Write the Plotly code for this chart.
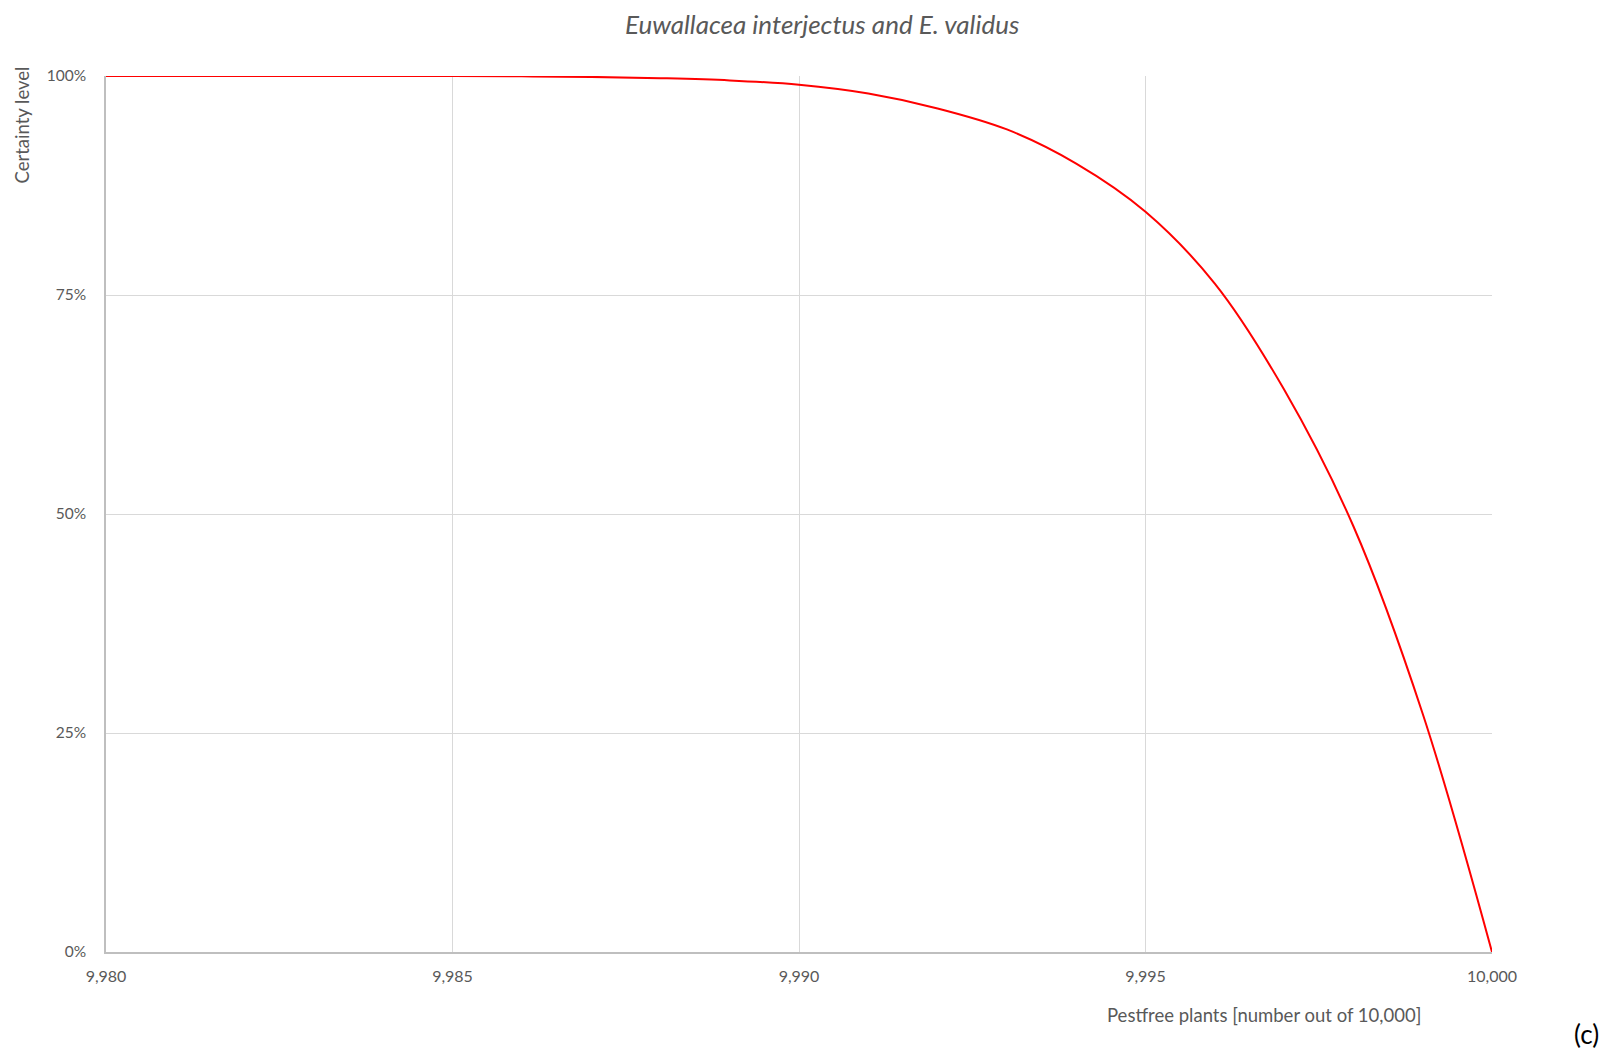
import plotly.graph_objects as go

# Data
pestfree_plants = [9980, 9981, 9982, 9983, 9984, 9985, 9986, 9987, 9988, 9989, 9990,
                   9991, 9992, 9993, 9994, 9995, 9996, 9997, 9998, 9999, 10000]
certainty = [1.000, 1.000, 1.000, 1.000, 1.000, 0.9999, 0.9996, 0.9990, 0.9975, 0.9950, 0.990,
             0.980, 0.963, 0.939, 0.900, 0.845, 0.763, 0.642, 0.486, 0.272, 0.000]

x_ticks = [9980, 9985, 9990, 9995, 10000]
y_ticks = [0, 0.25, 0.5, 0.75, 1.0]

title_text = "Euwallacea interjectus and E. validus"
x_title = "Pestfree plants [number out of 10,000]"
y_title = "Certainty level"
panel_label = "(c)"

FONT = "Lato, Carlito, 'Open Sans', sans-serif"
GRAY = "#595959"

fig = go.Figure()
fig.add_trace(go.Scatter(
    x=pestfree_plants, y=certainty, mode="lines",
    line=dict(color="#ff0000", width=2, shape="spline", smoothing=1.0),
    cliponaxis=False, showlegend=False, hoverinfo="x+y",
))

# The page body has an 8px margin; size the figure so the plot lands where the reference has it
OFF = 8
W, H = 1610 - OFF, 1051 - OFF
PL, PR, PT, PB = 106, 1492, 76, 952   # plot area edges in page pixels
L, R, T, B = PL - OFF, 1610 - PR, PT - OFF, 1051 - PB
pw, ph = PR - PL, PB - PT


def px(p):
    return (p - PL) / pw


def py(p):
    return (PB - p) / ph


fig.update_layout(
    width=W, height=H,
    margin=dict(l=L, r=R, t=T, b=B),
    paper_bgcolor="white", plot_bgcolor="white",
    font=dict(family=FONT, color=GRAY, size=16),
    showlegend=False,
    xaxis=dict(
        range=[9980, 10000], tickvals=x_ticks,
        ticktext=[f"{v:,}" for v in x_ticks],
        showgrid=True, gridcolor="#d9d9d9", gridwidth=1.3,
        showline=True, linecolor="#bfbfbf", linewidth=1.5,
        zeroline=False, ticks="", ticklabelstandoff=9,
        tickfont=dict(family=FONT, size=16, color=GRAY),
    ),
    yaxis=dict(
        range=[0, 1], tickvals=y_ticks,
        ticktext=[f"{int(v*100)}%" for v in y_ticks],
        showgrid=True, gridcolor="#d9d9d9", gridwidth=1.3,
        showline=True, linecolor="#bfbfbf", linewidth=1.5,
        zeroline=False, ticks="", ticklabelstandoff=15,
        tickfont=dict(family=FONT, size=15.5, color=GRAY),
    ),
    annotations=[
        dict(text=f"<i>{title_text}</i>", xref="paper", yref="paper",
             x=px(822), y=py(24), borderpad=0,
             xanchor="center", yanchor="middle", showarrow=False,
             font=dict(family=FONT, size=26, color=GRAY)),
        dict(text=y_title, xref="paper", yref="paper",
             x=px(22), y=py(65),
             xanchor="center", yanchor="top", textangle=-90, showarrow=False,
             font=dict(family=FONT, size=18.5, color=GRAY)),
        dict(text=x_title, xref="paper", yref="paper",
             x=px(1264), y=py(1015),
             xanchor="center", yanchor="middle", showarrow=False,
             font=dict(family=FONT, size=18.5, color=GRAY)),
        dict(text=panel_label, xref="paper", yref="paper",
             x=px(1586), y=py(1034), borderpad=0,
             xanchor="center", yanchor="middle", showarrow=False,
             font=dict(family=FONT, size=26, color="#000000")),
    ],
)

fig.write_html("out.html")
